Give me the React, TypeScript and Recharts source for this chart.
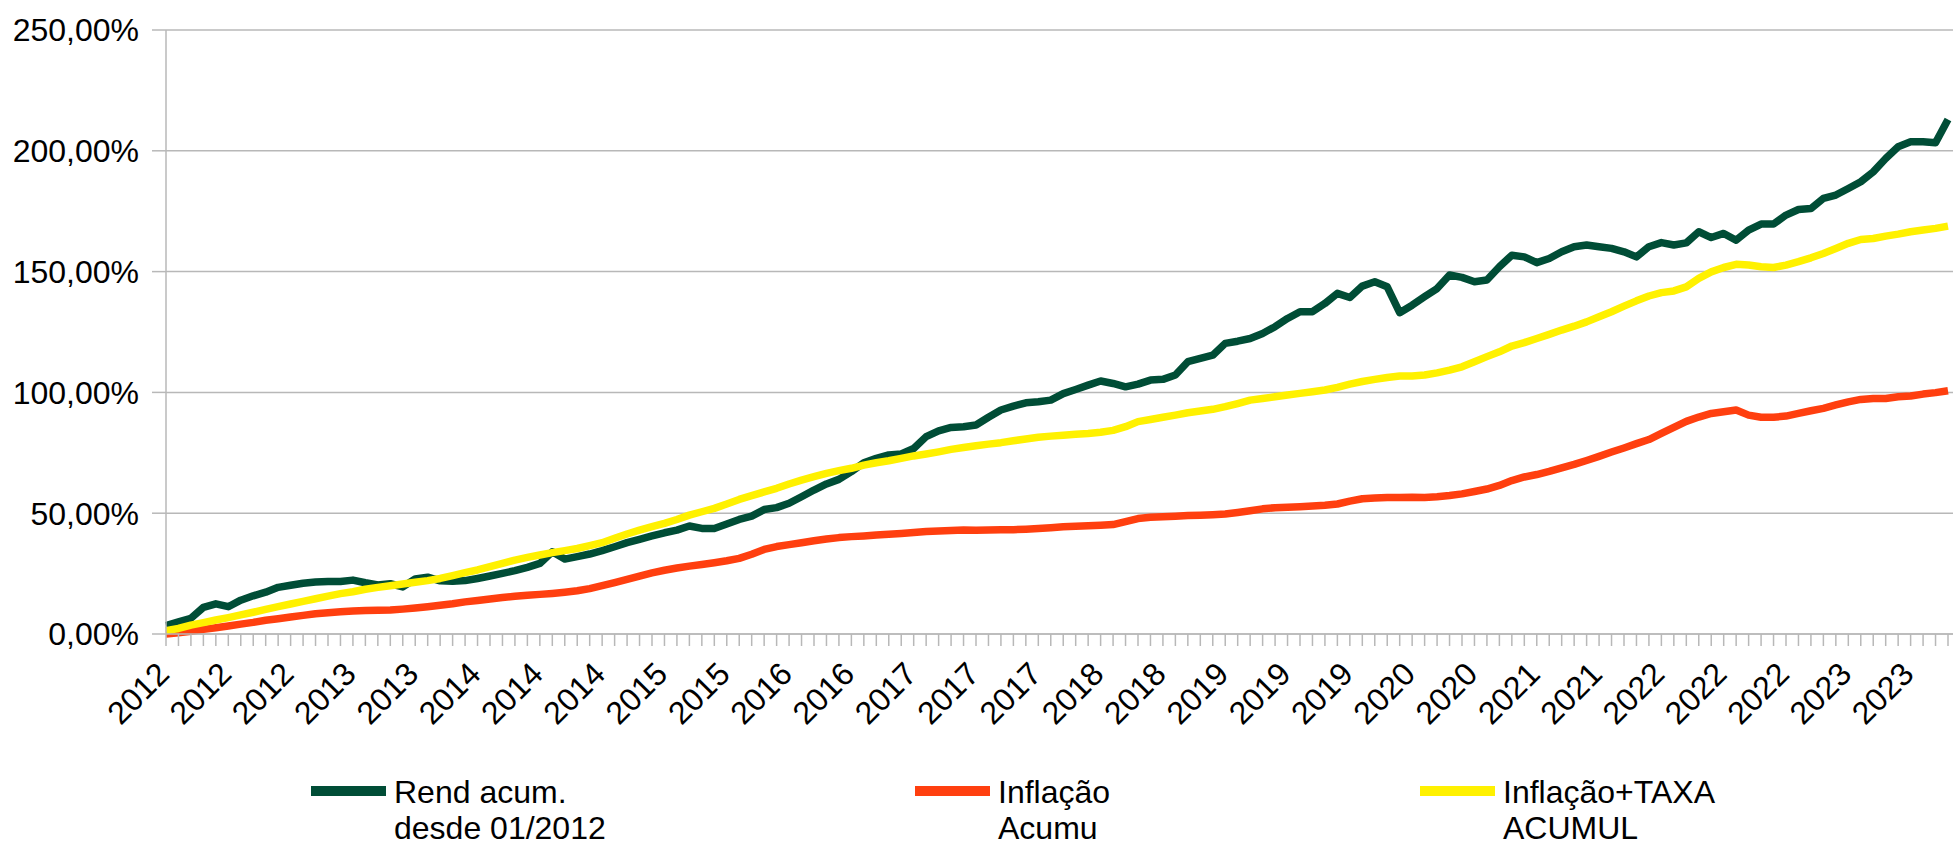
import React from 'react';
import { LineChart, Line, XAxis, YAxis, CartesianGrid } from 'recharts';

// Monthly categories, 01/2012 .. 12/2023
const years = ['2012', '2013', '2014', '2015', '2016', '2017', '2018', '2019', '2020', '2021', '2022', '2023'];
const monthNums = ['01', '02', '03', '04', '05', '06', '07', '08', '09', '10', '11', '12'];
const months: string[] = [];
years.forEach((y) => monthNums.forEach((m) => months.push(`${m}/${y}`)));

// Tick labels shown every 5 months
const tickYears = [
  '2012', '2012', '2012', '2013', '2013', '2014', '2014', '2014', '2015', '2015',
  '2016', '2016', '2017', '2017', '2017', '2018', '2018', '2019', '2019', '2019',
  '2020', '2020', '2021', '2021', '2022', '2022', '2022', '2023', '2023',
];

const yTicks = [0, 50, 100, 150, 200, 250];

const seriesNames = [
  ['Rend acum.', 'desde 01/2012'],
  ['Inflação', 'Acumu'],
  ['Inflação+TAXA', 'ACUMUL'],
];

// Rend acum. desde 01/2012 (%)
const rend = [
  3.5, 5.0, 6.5, 11.0, 12.5, 11.3, 14.0, 15.8, 17.3, 19.3, 20.2, 21.0,
  21.5, 21.7, 21.7, 22.3, 21.2, 20.3, 20.8, 19.5, 22.8, 23.5, 22.0, 21.8,
  22.1, 23.0, 24.0, 25.1, 26.2, 27.6, 29.2, 34.0, 31.0, 32.0, 33.1, 34.5,
  36.1, 37.8, 39.2, 40.6, 41.9, 43.0, 44.7, 43.7, 43.7, 45.5, 47.4, 48.8,
  51.5, 52.3, 54.1, 56.8, 59.6, 62.1, 64.0, 67.2, 70.9, 72.7, 74.1, 74.5,
  76.8, 81.7, 84.1, 85.5, 85.8, 86.5, 89.7, 92.7, 94.3, 95.7, 96.1, 96.8,
  99.5, 101.2, 103.0, 104.7, 103.7, 102.3, 103.4, 105.1, 105.4, 107.2, 112.7, 114.1,
  115.4, 120.3, 121.2, 122.3, 124.4, 127.2, 130.6, 133.4, 133.4, 136.8, 141.0, 139.3,
  144.0, 145.8, 143.7, 133.0, 136.1, 139.6, 143.0, 148.6, 147.6, 145.8, 146.5, 152.0,
  156.8, 156.1, 153.7, 155.4, 158.2, 160.3, 161.0, 160.3, 159.6, 158.2, 156.1, 160.3,
  162.0, 161.0, 161.9, 166.5, 164.1, 165.8, 163.0, 167.2, 169.7, 169.7, 173.4, 175.7,
  176.1, 180.3, 181.7, 184.4, 187.2, 191.3, 196.8, 201.7, 203.7, 203.7, 203.3, 213.0,
];

// Inflação Acumu (%)
const infl = [
  0.0, 0.5, 1.1, 1.9, 2.6, 3.3, 4.1, 4.8, 5.7, 6.3, 7.0, 7.7,
  8.4, 8.8, 9.2, 9.5, 9.7, 9.8, 9.9, 10.3, 10.8, 11.3, 11.9, 12.5,
  13.3, 13.9, 14.5, 15.1, 15.6, 16.0, 16.4, 16.8, 17.3, 17.9, 18.8, 20.0,
  21.3, 22.6, 24.0, 25.3, 26.4, 27.3, 28.1, 28.8, 29.5, 30.3, 31.3, 33.0,
  35.0, 36.2, 37.0, 37.8, 38.6, 39.3, 39.9, 40.3, 40.6, 41.0, 41.3, 41.6,
  42.0, 42.4, 42.6, 42.8, 43.0, 42.9, 43.0, 43.1, 43.2, 43.4, 43.7, 44.0,
  44.4, 44.6, 44.8, 45.0, 45.3, 46.5, 47.8, 48.3, 48.5, 48.7, 49.0, 49.2,
  49.4, 49.7, 50.3, 51.0, 51.8, 52.3, 52.5, 52.7, 53.0, 53.3, 53.8, 55.0,
  56.0, 56.3, 56.5, 56.5, 56.6, 56.5, 56.8, 57.3, 58.0, 59.0, 60.0, 61.5,
  63.5, 65.0, 66.0, 67.3, 68.8, 70.2, 71.8, 73.5, 75.3, 77.0, 78.8, 80.5,
  83.0, 85.5, 88.0, 89.8, 91.3, 92.0, 92.7, 90.6, 89.7, 89.7, 90.2, 91.3,
  92.4, 93.4, 94.8, 96.1, 97.1, 97.5, 97.5, 98.2, 98.5, 99.3, 99.9, 100.7,
];

// Inflação+TAXA ACUMUL (%)
const taxa = [
  1.4, 2.3, 3.7, 4.7, 5.8, 6.8, 7.9, 9.0, 10.2, 11.3, 12.4, 13.5,
  14.6, 15.7, 16.7, 17.5, 18.5, 19.3, 20.0, 20.7, 21.4, 22.1, 23.0, 24.2,
  25.4, 26.5, 27.9, 29.2, 30.6, 31.7, 32.7, 33.7, 34.5, 35.4, 36.6, 37.8,
  39.6, 41.4, 43.0, 44.4, 45.8, 47.4, 49.2, 50.6, 52.0, 53.8, 55.7, 57.3,
  58.8, 60.3, 62.1, 63.7, 65.1, 66.5, 67.6, 68.6, 69.9, 70.9, 71.7, 72.7,
  73.7, 74.5, 75.4, 76.4, 77.2, 77.9, 78.6, 79.2, 80.0, 80.7, 81.4, 81.9,
  82.3, 82.7, 83.0, 83.5, 84.3, 85.8, 87.9, 88.8, 89.7, 90.6, 91.6, 92.3,
  93.0, 94.1, 95.4, 96.8, 97.5, 98.2, 98.9, 99.6, 100.3, 101.0, 102.1, 103.4,
  104.5, 105.4, 106.2, 106.8, 106.8, 107.2, 108.1, 109.2, 110.6, 112.7, 114.8, 116.8,
  119.2, 120.6, 122.3, 124.0, 125.8, 127.4, 129.2, 131.3, 133.4, 135.7, 137.9, 139.9,
  141.3, 142.0, 143.7, 147.2, 149.9, 151.7, 153.0, 152.7, 152.0, 151.7, 152.7, 154.1,
  155.7, 157.5, 159.6, 161.7, 163.3, 163.7, 164.7, 165.5, 166.5, 167.2, 167.9, 168.8,
];

const GREEN = '#004d36';
const RED = '#ff3f0f';
const YELLOW = '#fff100';
const GRID = '#b8b8b8';
const FONT = '"Liberation Sans", Arial, sans-serif';

const colors = [GREEN, RED, YELLOW];
const legendX = [311, 915, 1420];

const fmtPct = (v: number) => `${v.toFixed(2).replace('.', ',')}%`;

const XTick = (props: any) => {
  const { x, y, index } = props;
  if (index % 5 !== 0) return <g />;
  const label = tickYears[index / 5];
  const ax = x + 5;
  const ay = y + 28;
  return (
    <text
      x={ax}
      y={ay}
      transform={`rotate(-45 ${ax} ${ay})`}
      textAnchor="end"
      fontSize={32}
      fontFamily={FONT}
      fill="#000"
    >
      {label}
    </text>
  );
};

export default function App() {
  const data = months.map((m, i) => ({ m, rend: rend[i], infl: infl[i], taxa: taxa[i] }));
  return (
    <div
      style={{
        position: 'absolute',
        left: 0,
        top: 0,
        width: 1953,
        height: 845,
        background: '#fff',
        fontFamily: FONT,
      }}
    >
      <LineChart width={1953} height={845} data={data} margin={{ top: 30, right: 0, bottom: 111, left: 0 }}>
        <CartesianGrid vertical={false} stroke={GRID} strokeWidth={1.5} />
        <XAxis
          dataKey="m"
          interval={0}
          tick={<XTick />}
          tickSize={12}
          height={100}
          tickLine={{ stroke: GRID, strokeWidth: 1.5 }}
          axisLine={{ stroke: GRID, strokeWidth: 1.5 }}
          padding={{ left: 0, right: 5 }}
        />
        <YAxis
          width={166}
          domain={[0, 250]}
          ticks={yTicks}
          tickFormatter={fmtPct}
          tickSize={14}
          tickMargin={13}
          tickLine={{ stroke: GRID, strokeWidth: 1.5 }}
          axisLine={{ stroke: GRID, strokeWidth: 1.5 }}
          tick={{ fontSize: 32, fill: '#000', fontFamily: FONT }}
        />
        <Line type="linear" dataKey="rend" stroke={GREEN} strokeWidth={7.5} dot={false} isAnimationActive={false} strokeLinejoin="round" />
        <Line type="linear" dataKey="infl" stroke={RED} strokeWidth={7.5} dot={false} isAnimationActive={false} strokeLinejoin="round" />
        <Line type="linear" dataKey="taxa" stroke={YELLOW} strokeWidth={7.5} dot={false} isAnimationActive={false} strokeLinejoin="round" />
      </LineChart>
      <svg width={1953} height={82} style={{ position: 'absolute', left: 0, top: 763 }}>
        {seriesNames.map((lines, i) => (
          <g key={i}>
            <line x1={legendX[i]} x2={legendX[i] + 75} y1={28} y2={28} stroke={colors[i]} strokeWidth={10} />
            {lines.map((t, j) => (
              <text key={j} x={legendX[i] + 83} y={40 + j * 36} fontSize={32} fontFamily={FONT} fill="#000">
                {t}
              </text>
            ))}
          </g>
        ))}
      </svg>
    </div>
  );
}
